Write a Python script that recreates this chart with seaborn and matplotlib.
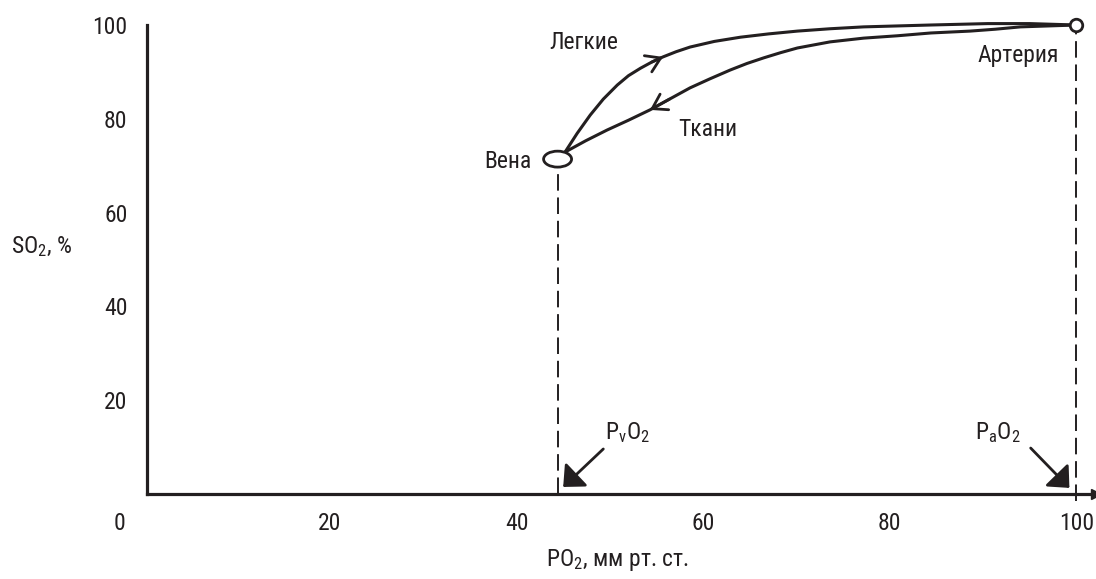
import matplotlib
matplotlib.use("Agg")
import matplotlib.pyplot as plt
import seaborn as sns
import pandas as pd
from matplotlib import font_manager as fm
from matplotlib.patches import Ellipse

# ---- data ----
lung_po2 = [44.4, 45.2, 46.5, 47.9, 49.3, 50.8, 52.0, 53.3, 54.5, 55.7, 57.1, 58.6, 61.2, 64.0,
            67.0, 70.1, 73.6, 77.2, 84.4, 90.5, 95.0, 100.0]
lung_so2 = [71.4, 72.9, 76.9, 80.8, 84.2, 87.2, 89.2, 90.8, 92.1, 93.2, 94.3, 95.3, 96.5, 97.4,
            98.1, 98.7, 99.2, 99.6, 100.0, 100.3, 100.3, 100.0]
tissue_po2 = [100.0, 97.0, 94.0, 91.3, 88.6, 84.4, 80.8, 77.2, 73.6, 70.1, 68.3, 66.5, 64.7, 62.9,
              60.7, 58.6, 56.4, 54.3, 52.0, 49.7, 47.4, 45.2, 44.4]
tissue_so2 = [100.0, 99.8, 99.6, 99.1, 98.7, 98.3, 97.7, 97.2, 96.4, 95.1, 94.1, 93.0, 91.8, 90.4,
              88.5, 86.6, 84.2, 81.9, 79.7, 77.6, 75.3, 72.9, 71.4]
vein_point = (44.4, 71.4)
artery_point = (100.0, 100.0)
x_ticks = [20, 40, 60, 80, 100]
y_ticks = [20, 40, 60, 80, 100]
labels = {"Легкие": (47.2, 96.2), "Ткани": (60.5, 77.8), "Вена": (41.6, 71.0), "Артерия": (93.8, 93.6)}

sns.set_style("white")
names = {f.name for f in fm.fontManager.ttflist}
cands = ["Roboto Condensed", "Liberation Sans Narrow", "DejaVu Sans Condensed", "Open Sans Condensed", "Roboto"]
font = next((c for c in cands if c in names), "DejaVu Sans")
plt.rcParams["font.family"] = [font, "DejaVu Sans"]
plt.rcParams["mathtext.fontset"] = "custom"
plt.rcParams["mathtext.rm"] = font
plt.rcParams["mathtext.it"] = font

INK = "#231f20"
FS = 17

fig = plt.figure(figsize=(10.96, 5.79), dpi=100)
ax = fig.add_axes([147 / 1096, 85 / 579, 949 / 1096, 469 / 579])

lung_df = pd.DataFrame({"po2": lung_po2, "so2": lung_so2})
tissue_df = pd.DataFrame({"po2": tissue_po2, "so2": tissue_so2})
for df in (lung_df, tissue_df):
    sns.lineplot(data=df, x="po2", y="so2", sort=False, estimator=None, color=INK, lw=2.2, ax=ax,
                 clip_on=False, solid_joinstyle="round", solid_capstyle="round")

# dashed verticals
dash = (0, (8.5, 3.5))
ax.plot([vein_point[0], vein_point[0]], [0, vein_point[1]], color=INK, lw=1.4, ls=dash, zorder=2)
ax.plot([artery_point[0], artery_point[0]], [-1.5, artery_point[1]], color=INK, lw=1.4, ls=dash, zorder=2, clip_on=False)

# vein ellipse, artery circle
ax.add_patch(Ellipse(vein_point, width=3.0, height=3.4, facecolor="white", edgecolor=INK, lw=2.0, zorder=5))
ax.plot([artery_point[0]], [artery_point[1]], "o", ms=9, mfc="white", mec=INK, mew=2.0, zorder=6, clip_on=False)

# direction chevrons on curves
chev = dict(arrowstyle="->,head_length=0.5,head_width=0.32", color=INK, lw=2.0, shrinkA=0, shrinkB=0, mutation_scale=20)
ax.annotate("", xy=(55.7, 93.2), xytext=(54.5, 92.1), arrowprops=chev)
ax.annotate("", xy=(54.3, 81.9), xytext=(56.4, 84.2), arrowprops=chev)

# pointer arrows at bottom
pa = dict(arrowstyle="-|>,head_length=0.55,head_width=0.5", color=INK, lw=2.0, shrinkA=0, shrinkB=0, mutation_scale=20)
ax.annotate("", xy=(45.0, 1.5), xytext=(49.3, 9.6), arrowprops=pa)
ax.annotate("", xy=(99.25, 1.3), xytext=(95.1, 9.8), arrowprops=pa)
ax.text(51.9, 13.0, r"$\mathregular{P_{v}O_{2}}$", fontsize=FS, color=INK, ha="center", va="center")
ax.text(91.6, 13.0, r"$\mathregular{P_{a}O_{2}}$", fontsize=FS, color=INK, ha="center", va="center")

# point labels
for txt, (x, y) in labels.items():
    ha = "right" if txt == "Вена" else "center"
    ax.text(x, y, txt, fontsize=FS, color=INK, ha=ha, va="center")

# axes styling
ax.set_xlim(0.4, 102.1)
ax.set_ylim(0, 100)
ax.set_xticks(x_ticks)
ax.set_yticks(y_ticks)
ax.set_xticklabels([str(v) for v in x_ticks])
ax.set_yticklabels([str(v) for v in y_ticks])
ax.set_xlabel("")
ax.set_ylabel("")
for s in ["top", "right"]:
    ax.spines[s].set_visible(False)
for s in ["left", "bottom"]:
    ax.spines[s].set_color(INK)
    ax.spines[s].set_linewidth(2.3)
ax.tick_params(axis="x", direction="out", length=7, width=1.6, pad=6, colors=INK, labelsize=FS)
ax.tick_params(axis="y", direction="out", length=9, width=1.6, pad=5, colors=INK, labelsize=FS)
ax.annotate("0", xy=(-2.5, 0), xycoords=("data", "axes fraction"), xytext=(0, -13), textcoords="offset points",
            ha="center", va="top", fontsize=FS, color=INK)
ax.plot([1], [0], ">", transform=ax.transAxes, ms=7, color=INK, clip_on=False)

fig.text(42 / 1096, 1 - 247 / 579, r"SO$\mathregular{_{2}}$, %", fontsize=FS, color=INK, ha="center", va="center")
fig.text(617 / 1096, 1 - 560 / 579, r"PO$\mathregular{_{2}}$, мм рт. ст.", fontsize=FS, color=INK, ha="center", va="center")

fig.savefig("out.png", dpi=100)
